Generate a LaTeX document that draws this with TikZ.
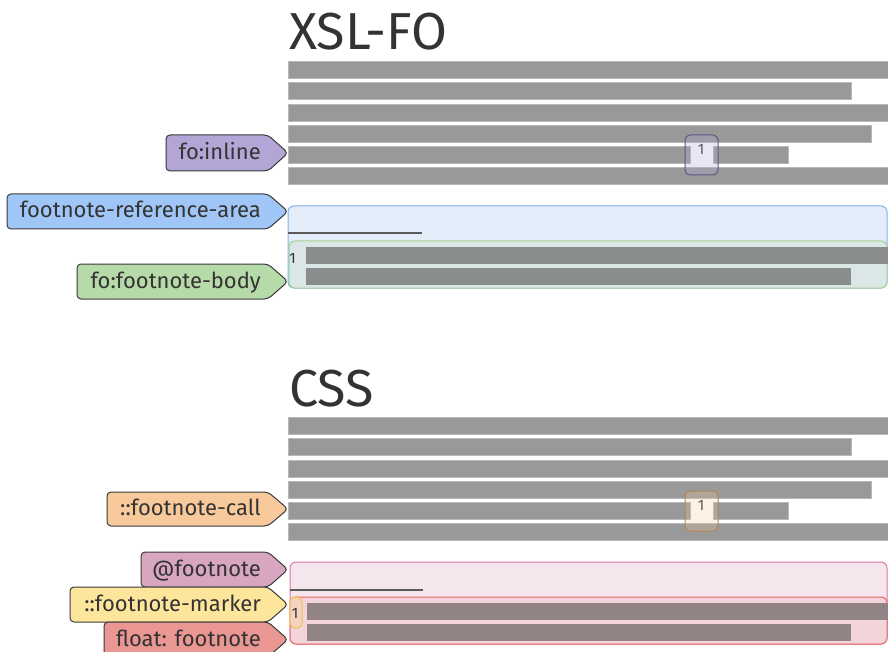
\documentclass[tikz,border=0pt]{standalone}
\usepackage{fontspec}
\setmainfont{Fira Sans}
\definecolor{txt}{HTML}{333333}
\definecolor{barg}{HTML}{999999}
\definecolor{barb}{HTML}{B8B8B8}
\definecolor{tagline}{HTML}{3A3A3A}
\definecolor{cpurple}{HTML}{B3A6D6}
\definecolor{cblue}{HTML}{9FC6F6}
\definecolor{cgreen}{HTML}{B6DAA8}
\definecolor{corange}{HTML}{F8CA9B}
\definecolor{cpink}{HTML}{D8A6C1}
\definecolor{cyellow}{HTML}{FDE69C}
\definecolor{cred}{HTML}{EA9693}
\definecolor{areablue}{HTML}{E4EEFB}
\definecolor{areablueline}{HTML}{7DB2EA}
\definecolor{bodygreen}{HTML}{DBE7E6}
\definecolor{bodygreenline}{HTML}{A3D393}
\definecolor{bodybar}{HTML}{898D8B}
\definecolor{areapink}{HTML}{F5E6EE}
\definecolor{areapinkline}{HTML}{D57AA6}
\definecolor{bodyred}{HTML}{F2D4DA}
\definecolor{bodyredline}{HTML}{E86868}
\definecolor{bodybarred}{HTML}{928385}
\definecolor{markfill}{HTML}{F5D3BF}
\definecolor{markline}{HTML}{F2C04A}
\definecolor{callline1}{HTML}{5F5585}
\definecolor{callline2}{HTML}{B38557}
\definecolor{sepline}{HTML}{5A5A5A}
\newcommand\tagbox[6]{%
  \path[tagshape, fill=#2] (#3,#4) -- (268,#4) -- (288,{(#4+#5)/2}) -- (268,#5) -- (#3,#5) -- cycle;
  \node[tagtext] (#1) at (261,{(#4+#5)/2+6.5}) {#6};
}
\begin{document}
\begin{tikzpicture}[x=1pt,y=-1pt,
  textbar/.style={fill=barg, draw=barb, line width=0.5pt},
  tagshape/.style={draw=tagline, line width=1pt, rounded corners=4pt},
  tagtext/.style={anchor=base east, inner sep=0pt, text=txt, font=\fontsize{22}{26}\selectfont},
  title/.style={anchor=base west, inner sep=0pt, text=txt, font=\fontsize{52}{58}\selectfont},
  fnum/.style={inner sep=0pt, text=txt, font=\fontsize{15}{17}\selectfont},
  area/.style={rounded corners=6pt, line width=1pt},
  sep/.style={draw=sepline, line width=2pt}
]
\useasboundingbox (0,0) rectangle (888,652);

% ---------------- XSL-FO ----------------
\node[title] (t1) at (289,50) {XSL-FO};
\draw[textbar] (288,61) rectangle (900,78);
\draw[textbar] (288,82) rectangle (851,99);
\draw[textbar] (288,104) rectangle (900,121);
\draw[textbar] (288,125) rectangle (871,142);
\draw[textbar] (288,146) rectangle (690,163);
\draw[textbar] (713,146) rectangle (788,163);
\draw[textbar] (288,167) rectangle (900,184);
\node[fnum] (c1) at (701,149) {1};
\path[fill=cpurple, fill opacity=0.28, draw=callline1, line width=1pt, rounded corners=5pt] (685,135) rectangle (718,175);

\draw[area, fill=areablue, draw=areablueline] (288,206) rectangle (887,288);
\draw[sep] (288,233.5) -- (422,233.5);
\draw[area, fill=bodygreen, draw=bodygreenline] (289,241) rectangle (887,288);
\fill[bodybar] (306,247) rectangle (900,264);
\fill[bodybar] (306,268) rectangle (851,285);
\node[fnum] (n1) at (292.5,258) {1};

\tagbox{inl}{cpurple}{166}{135}{171}{fo:inline}
\tagbox{fra}{cblue}{7}{194}{229}{footnote-reference-area}
\tagbox{fnb}{cgreen}{77}{264}{299}{fo:footnote-body}

% ---------------- CSS ----------------
\node[title] (t2) at (289,406) {CSS};
\draw[textbar] (288,417) rectangle (900,434);
\draw[textbar] (288,438) rectangle (851,455);
\draw[textbar] (288,460) rectangle (900,477);
\draw[textbar] (288,481) rectangle (871,498);
\draw[textbar] (288,502) rectangle (690,519);
\draw[textbar] (713,502) rectangle (788,519);
\draw[textbar] (288,523) rectangle (900,540);
\node[fnum] (c2) at (701,505) {1};
\path[fill=corange, fill opacity=0.25, draw=callline2, line width=1pt, rounded corners=5pt] (685,491) rectangle (718,531);

\draw[area, fill=areapink, draw=areapinkline] (290,562) rectangle (887,644);
\draw[sep] (290,589.5) -- (423,589.5);
\draw[area, fill=bodyred, draw=bodyredline] (290,597) rectangle (887,644);
\fill[bodybarred] (307,603) rectangle (900,620);
\fill[bodybarred] (307,624) rectangle (851,641);
\path[fill=markfill, draw=markline, line width=1pt, rounded corners=5pt] (290,597) rectangle (302,628);
\node[fnum] (n2) at (295,613) {1};

\tagbox{fcall}{corange}{107}{492}{526}{::footnote-call}
\tagbox{atfn}{cpink}{141}{552}{587}{@footnote}
\tagbox{fmark}{cyellow}{70}{587}{622}{::footnote-marker}
\tagbox{ffloat}{cred}{104}{622}{657}{float: footnote}
\end{tikzpicture}
\end{document}
